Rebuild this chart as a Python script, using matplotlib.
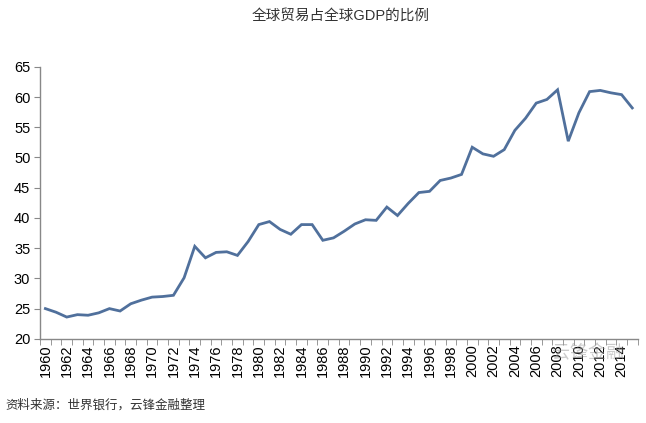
import matplotlib.pyplot as plt

plt.rcParams['font.family'] = ['Liberation Sans', 'Noto Sans CJK SC', 'DejaVu Sans']

# World trade as share of world GDP (%)
years = list(range(1960, 2016))
trade_share = [25.0, 24.4, 23.6, 24.0, 23.9, 24.3, 25.0, 24.6, 25.8, 26.4,
               26.9, 27.0, 27.2, 30.1, 35.3, 33.4, 34.3, 34.4, 33.8, 36.1,
               38.9, 39.4, 38.1, 37.3, 38.9, 38.9, 36.3, 36.7, 37.8, 39.0,
               39.7, 39.6, 41.8, 40.4, 42.4, 44.2, 44.4, 46.2, 46.6, 47.2,
               51.7, 50.6, 50.2, 51.3, 54.5, 56.5, 59.0, 59.6, 61.2, 52.7,
               57.4, 60.9, 61.1, 60.7, 60.4, 58.2]
y_ticks = [20, 25, 30, 35, 40, 45, 50, 55, 60, 65]

title = '全球贸易占全球GDP的比例'
source = '资料来源：世界银行，云锋金融整理'

fig = plt.figure(figsize=(6.46, 4.23), dpi=100)
ax = fig.add_axes([0.062, 0.199, 0.925, 0.643])

x = list(range(len(years)))
ax.plot(x, trade_share, color='#50709c', linewidth=2.0, solid_joinstyle='miter')

ax.set_xlim(-0.5, len(years) - 0.5)
ax.set_ylim(20, 65)
ax.set_yticks(y_ticks)
ax.set_xticks(x[::2])
ax.set_xticklabels([str(y) for y in years[::2]], rotation=90, fontsize=10.5)
ax.set_xticks([i - 0.5 for i in range(len(years) + 1)], minor=True)
ax.tick_params(axis='x', which='major', length=0, pad=4)
ax.tick_params(axis='x', which='minor', length=4, color='#888888', direction='out')
ax.tick_params(axis='y', length=4, color='#888888', labelsize=10.5, pad=3)

for side in ['top', 'right']:
    ax.spines[side].set_visible(False)
for side in ['left', 'bottom']:
    ax.spines[side].set_color('#888888')
    ax.spines[side].set_linewidth(1.0)

fig.text(0.528, 0.962, title, ha='center', va='center', fontsize=10.5, color='#333333')
fig.text(0.008, 0.042, source, ha='left', va='center', fontsize=9, color='#333333')

# watermark
fig.text(0.91, 0.165, '云锋金融', ha='center', va='center', fontsize=13,
         color='#999999', alpha=0.5)

fig.savefig('out.png', dpi=100)
